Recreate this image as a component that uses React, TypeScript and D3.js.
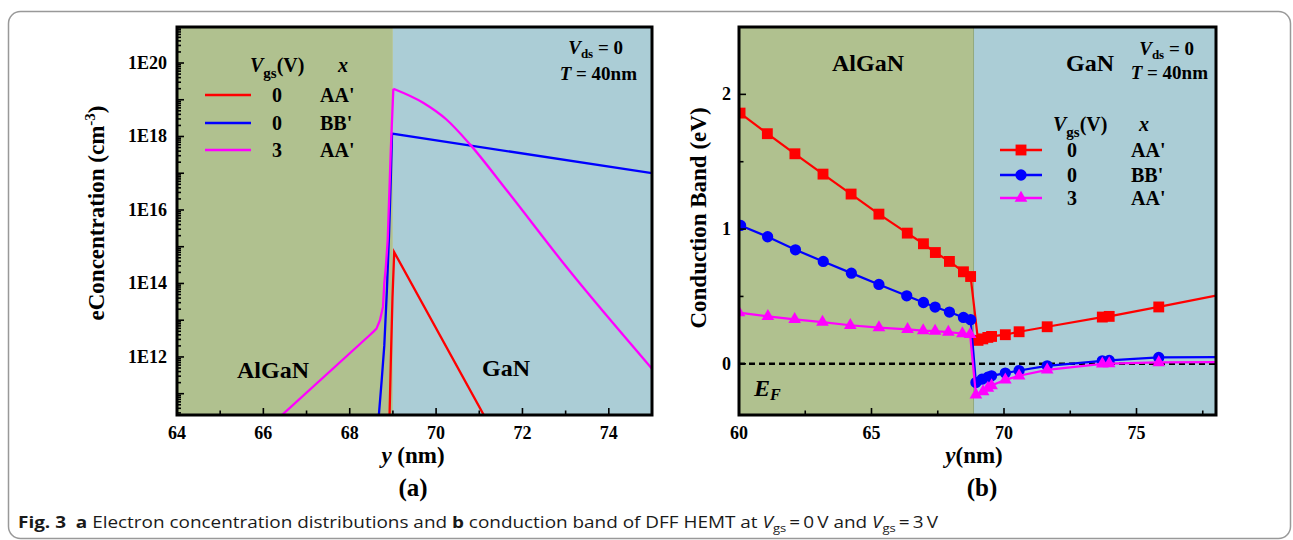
import React from 'react';
import * as d3 from 'd3';

const W = 1293;
const H = 540;

// ---------- Panel (a): electron concentration (cm^-3) vs y (nm) ----------
const aRedX = [68.92, 68.95, 68.99, 69.03, 71.16];
const aRedY = [2e10, 6.3e11, 4e13, 7.1e14, 2e10];
const aBlueX = [68.66, 68.74, 68.8, 68.86, 68.91, 68.95, 68.98, 75.0];
const aBlueY = [1.6e10, 2.3e11, 2e12, 6.3e13, 2e15, 6.3e16, 1.2e18, 1e17];
const aMagX = [66.3, 68.46, 68.55, 68.62, 68.7, 68.77, 68.8, 68.84, 68.88, 68.95, 69.01, 69.7, 70.24, 70.78, 71.63, 73.02, 75.0];
const aMagY = [1.9e10, 3.9e12, 4.9e12, 5.9e12, 1e13, 2.3e13, 1e14, 3.2e14, 1.6e15, 4e17, 2e19, 8.3e18, 2.9e18, 6.2e17, 3.5e16, 2.8e14, 4.8e11];
const aXTicks = [64, 66, 68, 70, 72, 74];
const aXMinor = [65, 67, 69, 71, 73];
const aYLabelExp = [12, 14, 16, 18, 20];
const aYMajorExp = [11, 12, 13, 14, 15, 16, 17, 18, 19, 20];
const aBoundary = 69.0;

// ---------- Panel (b): conduction band (eV) vs y (nm) ----------
// last point of each series is the line end at the frame (no marker)
const bRedX = [60.04, 61.07, 62.11, 63.17, 64.23, 65.28, 66.35, 66.96, 67.41, 67.94, 68.47, 68.74, 69.02, 69.2, 69.39, 69.53, 70.05, 70.57, 71.63, 73.71, 73.97, 75.84, 78.0];
const bRedY = [1.861, 1.708, 1.559, 1.408, 1.26, 1.111, 0.97, 0.891, 0.826, 0.76, 0.683, 0.648, 0.174, 0.185, 0.196, 0.203, 0.216, 0.238, 0.275, 0.347, 0.352, 0.422, 0.506];
const bBlueX = [60.06, 61.08, 62.13, 63.18, 64.24, 65.28, 66.33, 66.96, 67.4, 67.94, 68.47, 68.74, 68.94, 69.17, 69.39, 69.53, 70.05, 70.57, 71.63, 73.71, 73.97, 75.84, 78.0];
const bBlueY = [1.027, 0.943, 0.846, 0.76, 0.673, 0.589, 0.505, 0.455, 0.421, 0.384, 0.344, 0.327, -0.139, -0.114, -0.099, -0.089, -0.069, -0.05, -0.015, 0.022, 0.025, 0.047, 0.05];
const bMagX = [60.0, 61.09, 62.1, 63.15, 64.2, 65.28, 66.36, 66.95, 67.4, 67.9, 68.43, 68.72, 68.94, 69.21, 69.39, 69.53, 70.05, 70.57, 71.63, 73.71, 73.97, 75.84, 78.0];
const bMagY = [0.38, 0.352, 0.33, 0.31, 0.286, 0.268, 0.255, 0.247, 0.243, 0.235, 0.225, 0.219, -0.231, -0.206, -0.181, -0.161, -0.119, -0.089, -0.045, 0.0, 0.002, 0.01, 0.012];
const bXTicks = [60, 65, 70, 75];
const bXMinor = [62.5, 67.5, 72.5, 77.5];
const bYTicks = [0, 1, 2];
const bYMinor = [0.5, 1.5];
const bBoundary = 68.85;

const legendVgs = ['0', '0', '3'];
const legendX = ["AA'", "BB'", "AA'"];

const RED = '#ff0000';
const BLUE = '#0000ff';
const MAG = '#ff00ff';
const ALGAN = '#b0c18f';
const GAN = '#abcdd6';
const SERIF = '"Liberation Serif", "Times New Roman", serif';

const A = { x0: 177, x1: 652, y0: 27, y1: 415 };
const B = { x0: 739, x1: 1216, y0: 27, y1: 415 };

const ax = d3.scaleLinear().domain([64, 75]).range([A.x0, A.x1]);
const ay = d3.scaleLog().domain([Math.pow(10, 10.42), Math.pow(10, 20.98)]).range([A.y1, A.y0]);
const bx = d3.scaleLinear().domain([60, 78]).range([B.x0, B.x1]);
const by = d3.scaleLinear().domain([-0.38, 2.5]).range([B.y1, B.y0]);

function zip(xs: number[], ys: number[]): [number, number][] {
  return xs.map((x, i) => [x, ys[i]] as [number, number]);
}

const aLine = d3.line<[number, number]>().x((d) => ax(d[0])).y((d) => ay(d[1]));
const aLineSmooth = d3.line<[number, number]>().x((d) => ax(d[0])).y((d) => ay(d[1])).curve(d3.curveMonotoneX);
const bLine = d3.line<[number, number]>().x((d) => bx(d[0])).y((d) => by(d[1]));

const symSquare = d3.symbol().type(d3.symbolSquare).size(118)()!;
const symCircle = d3.symbol().type(d3.symbolCircle).size(100)()!;
const symTri = d3.symbol().type(d3.symbolTriangle).size(70)()!;

const colorsA = [RED, BLUE, MAG];
const symbolsB = [symSquare, symCircle, symTri];

function magentaPath(): string {
  const pts = zip(aMagX, aMagY);
  const peak = d3.maxIndex(aMagY);
  const rising = aLine(pts.slice(0, peak + 1)) || '';
  const falling = aLineSmooth(pts.slice(peak)) || '';
  return rising + falling;
}

export default function App() {
  const aMinor: number[] = [];
  for (let e = 10; e <= 20; e++) {
    for (let k = 2; k <= 9; k++) {
      const v = k * Math.pow(10, e);
      const [lo, hi] = ay.domain();
      if (v > lo && v < hi) aMinor.push(v);
    }
  }
  const bSeries = [
    { xs: bRedX, ys: bRedY, c: RED },
    { xs: bBlueX, ys: bBlueY, c: BLUE },
    { xs: bMagX, ys: bMagY, c: MAG },
  ];

  return (
    <div style={{ position: 'absolute', left: 0, top: 0 }}>
      <svg width={W} height={H} viewBox={`0 0 ${W} ${H}`} style={{ display: 'block', background: '#fff' }}>
        <defs>
          <clipPath id="clipA">
            <rect x={A.x0} y={A.y0} width={A.x1 - A.x0} height={A.y1 - A.y0} />
          </clipPath>
          <clipPath id="clipB">
            <rect x={B.x0} y={B.y0} width={B.x1 - B.x0} height={B.y1 - B.y0} />
          </clipPath>
        </defs>
        <rect x={8.5} y={11.5} width={1282} height={527} rx={12} fill="none" stroke="#999" strokeWidth={1.5} />

        {/* ---------------- Panel (a) ---------------- */}
        <rect x={A.x0} y={A.y0} width={ax(aBoundary) - A.x0} height={A.y1 - A.y0} fill={ALGAN} />
        <rect x={ax(aBoundary)} y={A.y0} width={A.x1 - ax(aBoundary)} height={A.y1 - A.y0} fill={GAN} />
        <g clipPath="url(#clipA)" fill="none" strokeWidth={2.3}>
          <path d={aLine(zip(aRedX, aRedY)) || ''} stroke={RED} />
          <path d={aLine(zip(aBlueX, aBlueY)) || ''} stroke={BLUE} />
          <path d={magentaPath()} stroke={MAG} />
        </g>
        <g stroke="#000" strokeWidth={1.6}>
          {aXTicks.map((t) => (
            <line key={'ax' + t} x1={ax(t)} x2={ax(t)} y1={A.y1} y2={A.y1 - 7} />
          ))}
          {aXMinor.map((t) => (
            <line key={'axm' + t} x1={ax(t)} x2={ax(t)} y1={A.y1} y2={A.y1 - 4.5} />
          ))}
          {aYMajorExp.map((e) => (
            <line key={'ay' + e} x1={A.x0} x2={A.x0 + 7} y1={ay(Math.pow(10, e))} y2={ay(Math.pow(10, e))} />
          ))}
          {aMinor.map((v, i) => (
            <line key={'aym' + i} x1={A.x0} x2={A.x0 + 4} y1={ay(v)} y2={ay(v)} />
          ))}
        </g>
        <rect x={A.x0} y={A.y0} width={A.x1 - A.x0} height={A.y1 - A.y0} fill="none" stroke="#000" strokeWidth={3} />
        <g fontFamily={SERIF} fontWeight="bold" fontSize={18} fill="#000">
          {aXTicks.map((t) => (
            <text key={'axl' + t} x={ax(t)} y={439} textAnchor="middle">{t}</text>
          ))}
          {aYLabelExp.map((e) => (
            <text key={'ayl' + e} x={167} y={ay(Math.pow(10, e)) + 6} textAnchor="end">{'1E' + e}</text>
          ))}
        </g>
        <g fontFamily={SERIF} fontWeight="bold" fill="#000">
          <text x={413} y={463} textAnchor="middle" fontSize={23}>
            <tspan fontStyle="italic">y</tspan> (nm)
          </text>
          <text x={413} y={496} textAnchor="middle" fontSize={25}>(a)</text>
          <text transform="translate(104,213) rotate(-90)" textAnchor="middle" fontSize={23}>
            eConcentration (cm<tspan fontSize={15} dy={-9}>-3</tspan><tspan dy={9}>)</tspan>
          </text>
          <text x={250} y={72} fontSize={20}>
            <tspan fontStyle="italic">V</tspan><tspan fontSize={15} dy={6}>gs</tspan><tspan dy={-6}>(V)</tspan>
          </text>
          <text x={338} y={72} fontSize={20} fontStyle="italic">x</text>
          {legendVgs.map((v, i) => {
            const yy = [95, 123, 150][i];
            return (
              <g key={'la' + i}>
                <line x1={205} x2={251} y1={yy} y2={yy} stroke={colorsA[i]} strokeWidth={2.5} />
                <text x={277} y={yy + 7} fontSize={20} textAnchor="middle">{v}</text>
                <text x={320} y={yy + 7} fontSize={20}>{legendX[i]}</text>
              </g>
            );
          })}
          <text x={623} y={54} fontSize={19} textAnchor="end">
            <tspan fontStyle="italic">V</tspan><tspan fontSize={13} dy={4}>ds</tspan><tspan dy={-4}> = 0</tspan>
          </text>
          <text x={637} y={80} fontSize={19} textAnchor="end">
            <tspan fontStyle="italic">T</tspan> = 40nm
          </text>
          <text x={273} y={378} fontSize={24} textAnchor="middle">AlGaN</text>
          <text x={506} y={376} fontSize={24} textAnchor="middle">GaN</text>
        </g>

        {/* ---------------- Panel (b) ---------------- */}
        <rect x={B.x0} y={B.y0} width={bx(bBoundary) - B.x0} height={B.y1 - B.y0} fill={ALGAN} />
        <rect x={bx(bBoundary)} y={B.y0} width={B.x1 - bx(bBoundary)} height={B.y1 - B.y0} fill={GAN} />
        <line x1={bx(bBoundary)} x2={bx(bBoundary)} y1={B.y0} y2={B.y1} stroke="#93a97d" strokeWidth={1} />
        <g clipPath="url(#clipB)">
          <line x1={B.x0} x2={B.x1} y1={by(0)} y2={by(0)} stroke="#000" strokeWidth={2.6} strokeDasharray="6 4" />
          {bSeries.map((s, i) => (
            <g key={'bs' + i}>
              <path d={bLine(zip(s.xs, s.ys)) || ''} fill="none" stroke={s.c} strokeWidth={2.2} />
              {s.xs.slice(0, s.xs.length - 1).map((x, j) => (
                <path key={j} d={symbolsB[i]} transform={`translate(${bx(x)},${by(s.ys[j])})`} fill={s.c} />
              ))}
            </g>
          ))}
        </g>
        <g stroke="#000" strokeWidth={1.6}>
          {bXTicks.map((t) => (
            <line key={'bx' + t} x1={bx(t)} x2={bx(t)} y1={B.y1} y2={B.y1 - 7} />
          ))}
          {bXMinor.map((t) => (
            <line key={'bxm' + t} x1={bx(t)} x2={bx(t)} y1={B.y1} y2={B.y1 - 4.5} />
          ))}
          {bYTicks.map((t) => (
            <line key={'by' + t} x1={B.x0} x2={B.x0 + 7} y1={by(t)} y2={by(t)} />
          ))}
          {bYMinor.map((t) => (
            <line key={'bym' + t} x1={B.x0} x2={B.x0 + 4.5} y1={by(t)} y2={by(t)} />
          ))}
        </g>
        <rect x={B.x0} y={B.y0} width={B.x1 - B.x0} height={B.y1 - B.y0} fill="none" stroke="#000" strokeWidth={3} />
        <g fontFamily={SERIF} fontWeight="bold" fontSize={18} fill="#000">
          {bXTicks.map((t) => (
            <text key={'bxl' + t} x={bx(t)} y={439} textAnchor="middle">{t}</text>
          ))}
          {bYTicks.map((t) => (
            <text key={'byl' + t} x={731} y={by(t) + 6} textAnchor="end">{t}</text>
          ))}
        </g>
        <g fontFamily={SERIF} fontWeight="bold" fill="#000">
          <text x={974} y={463} textAnchor="middle" fontSize={23}>
            <tspan fontStyle="italic">y</tspan>(nm)
          </text>
          <text x={982} y={496} textAnchor="middle" fontSize={25}>(b)</text>
          <text transform="translate(706,218) rotate(-90)" textAnchor="middle" fontSize={23}>
            Conduction Band (eV)
          </text>
          <text x={868} y={71} fontSize={24} textAnchor="middle">AlGaN</text>
          <text x={1090} y={71} fontSize={24} textAnchor="middle">GaN</text>
          <text x={1194} y={55} fontSize={19} textAnchor="end">
            <tspan fontStyle="italic">V</tspan><tspan fontSize={13} dy={4}>ds</tspan><tspan dy={-4}> = 0</tspan>
          </text>
          <text x={1208} y={79} fontSize={19} textAnchor="end">
            <tspan fontStyle="italic">T</tspan> = 40nm
          </text>
          <text x={1053} y={131} fontSize={20}>
            <tspan fontStyle="italic">V</tspan><tspan fontSize={15} dy={6}>gs</tspan><tspan dy={-6}>(V)</tspan>
          </text>
          <text x={1139} y={131} fontSize={20} fontStyle="italic">x</text>
          {legendVgs.map((v, i) => {
            const yy = [150, 175, 198][i];
            const c = colorsA[i];
            return (
              <g key={'lb' + i}>
                <line x1={1000} x2={1042} y1={yy} y2={yy} stroke={c} strokeWidth={2.5} />
                <path d={symbolsB[i]} transform={`translate(1021,${yy})`} fill={c} />
                <text x={1072} y={yy + 7} fontSize={20} textAnchor="middle">{v}</text>
                <text x={1131} y={yy + 7} fontSize={20}>{legendX[i]}</text>
              </g>
            );
          })}
          <text x={754} y={396} fontSize={24} fontStyle="italic">
            E<tspan fontSize={16} dy={4}>F</tspan>
          </text>
        </g>

        {/* caption */}
        <text x={18} y={528} fontFamily='"Open Sans", "Noto Sans", sans-serif' fontSize={16} fill="#1a1a1a"
          textLength={920} lengthAdjust="spacingAndGlyphs">
          <tspan fontWeight="bold">Fig. 3</tspan>
          <tspan>{'\u00a0\u00a0'}</tspan>
          <tspan fontWeight="bold">a</tspan>
          <tspan> Electron concentration distributions and </tspan>
          <tspan fontWeight="bold">b</tspan>
          <tspan> conduction band of DFF HEMT at </tspan>
          <tspan fontStyle="italic">V</tspan>
          <tspan fontSize={11} dy={4}>gs</tspan>
          <tspan dy={-4}>{'\u2009=\u20090\u2009V and '}</tspan>
          <tspan fontStyle="italic">V</tspan>
          <tspan fontSize={11} dy={4}>gs</tspan>
          <tspan dy={-4}>{'\u2009=\u20093\u2009V'}</tspan>
        </text>
      </svg>
    </div>
  );
}
